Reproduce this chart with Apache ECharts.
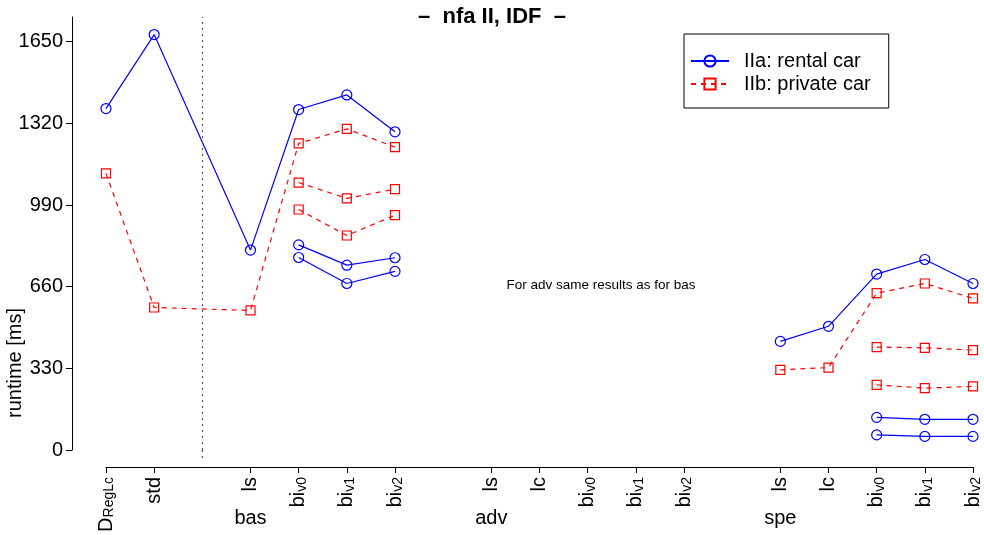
<!DOCTYPE html>
<html><head><meta charset="utf-8">
<script src="https://cdn.jsdelivr.net/npm/echarts@6/dist/echarts.min.js"></script>
<style>html,body{margin:0;padding:0;background:#fff}#c{width:984px;height:535px}</style>
</head><body><div id="c"></div>
<script>
// x slots: 0..18 (2, 7, 13 are gaps)
const tickPos = [0,1,3,4,5,6,8,9,10,11,12,14,15,16,17,18];
const tickLabels = ['D_RegLc','std','ls','bi_v0','bi_v1','bi_v2','ls','lc','bi_v0','bi_v1','bi_v2','ls','lc','bi_v0','bi_v1','bi_v2'];
const groupPos = [3,8,14];
const groupLabels = ['bas','adv','spe'];
const yTicks = [0,330,660,990,1320,1650];

const mainX = [0,1,3,4,5,6];
const biX = [4,5,6];
const speX = [14,15,16,17,18];
const speBiX = [16,17,18];

// IIa: rental car
const rentalMain = [1380,1679,808,1376,1435,1286];
const rentalBas2 = [829,747,777];
const rentalBas3 = [778,673,722];
const rentalSpe = [439,500,711,770,673];
const rentalSpe2 = [132,124,124];
const rentalSpe3 = [61,55,55];
// IIb: private car
const privateMain = [1118,576,564,1239,1298,1224];
const privateBas2 = [1081,1017,1054];
const privateBas3 = [972,867,949];
const privateSpe = [324,333,634,673,613];
const privateSpe2 = [416,413,404];
const privateSpe3 = [263,250,257];

const FONT = '"Liberation Sans", Arial, sans-serif';
const BLUE = '#0000ff', RED = '#ff0000';
const zip = (xs, ys) => xs.map((x, i) => [x, ys[i]]);

function mk(name, xs, ys, isRental, extra) {
  const c = isRental ? BLUE : RED;
  return Object.assign({
    name, type: 'line', data: zip(xs, ys),
    symbol: isRental ? 'circle' : 'rect',
    symbolSize: isRental ? 10 : 9,
    lineStyle: { color: c, width: 1.2, type: isRental ? 'solid' : [5, 5] },
    itemStyle: { color: 'rgba(255,255,255,0)', borderColor: c, borderWidth: 1.2 },
    emphasis: { disabled: true }, animation: false
  }, extra || {});
}

const RN = 'IIa: rental car', PN = 'IIb: private car';
const DOT = { type: [2, 4], color: '#555', width: 1.2 };
const series = [
  mk(RN, mainX, rentalMain, true, {
    markLine: { symbol: 'none', silent: true, label: { show: false },
      lineStyle: DOT, data: [{ xAxis: 2 }] }
  }),
  mk(RN, biX, rentalBas2, true),
  mk(RN, biX, rentalBas3, true),
  mk(RN, speX, rentalSpe, true),
  mk(RN, speBiX, rentalSpe2, true),
  mk(RN, speBiX, rentalSpe3, true),
  mk(PN, mainX, privateMain, false),
  mk(PN, biX, privateBas2, false),
  mk(PN, biX, privateBas3, false),
  mk(PN, speX, privateSpe, false),
  mk(PN, speBiX, privateSpe2, false),
  mk(PN, speBiX, privateSpe3, false)
];

const chart = echarts.init(document.getElementById('c'), null, { renderer: 'canvas' });
chart.setOption({
  animation: false,
  backgroundColor: '#fff',
  textStyle: { fontFamily: FONT, color: '#000' },
  title: { text: '\u2013  nfa II, IDF  \u2013', left: 'center', top: 1,
    textStyle: { fontFamily: FONT, fontSize: 22, fontWeight: 'bold', color: '#000' } },
  legend: {
    orient: 'vertical', left: 684, top: 34,
    data: [RN, PN],
    borderColor: '#000', borderWidth: 1, borderRadius: 0,
    padding: [17, 18, 14, 6], itemGap: 3,
    itemWidth: 38, itemHeight: 14,
    textStyle: { fontFamily: FONT, fontSize: 20, color: '#000', padding: [0, 0, 0, 10] }
  },
  grid: { left: 106, right: 11, top: 17, bottom: 85, containLabel: false },
  xAxis: [{
    type: 'value', min: 0, max: 18, offset: 17,
    axisLine: { show: true, onZero: false, lineStyle: { color: '#000', width: 1 } },
    axisTick: { show: true, length: 6, lineStyle: { color: '#000' }, customValues: tickPos },
    splitLine: { show: false },
    axisLabel: {
      customValues: tickPos, rotate: 90, margin: 10, fontSize: 20, color: '#000', fontFamily: FONT,
      lineHeight: 20,
      formatter: v => {
        const i = tickPos.indexOf(v);
        if (i < 0) return '';
        const p = tickLabels[i].split('_');
        return p.length > 1 ? p[0] + '{s|' + p[1] + '}' : p[0];
      },
      rich: { s: { fontSize: 14, lineHeight: 6, verticalAlign: 'bottom', fontFamily: FONT, color: '#000' } }
    }
  }, {
    type: 'value', min: 0, max: 18, offset: 17, position: 'bottom',
    axisLine: { show: false, onZero: false }, axisTick: { show: false }, splitLine: { show: false },
    axisLabel: {
      customValues: groupPos, margin: 41, fontSize: 20, color: '#000', fontFamily: FONT,
      formatter: v => { const i = groupPos.indexOf(v); return i < 0 ? '' : groupLabels[i]; }
    }
  }],
  yAxis: {
    type: 'value', min: 0, max: 1750, offset: 34,
    axisLine: { show: true, onZero: false, lineStyle: { color: '#000', width: 1 } },
    axisTick: { show: true, length: 6, lineStyle: { color: '#000' }, customValues: yTicks },
    splitLine: { show: false },
    axisLabel: { customValues: yTicks, margin: 9, fontSize: 20, color: '#000', fontFamily: FONT,
      formatter: v => String(v) }
  },
  graphic: [
    { id: 'ylab', type: 'text', x: 5, y: 418, rotation: Math.PI / 2,
      style: { text: 'runtime [ms]', fontSize: 20, fontFamily: FONT, fill: '#000',
        textAlign: 'left', textVerticalAlign: 'top' } },
    { id: 'note', type: 'text', x: 601, y: 285,
      style: { text: 'For adv same results as for bas', fontSize: 13.5, fontFamily: FONT, fill: '#000',
        textAlign: 'center', textVerticalAlign: 'middle' } }
  ],
  series
});
// extend the dotted separator slightly below the plotting region, as in the original
const sx = chart.convertToPixel({ xAxisIndex: 0 }, 2);
const sy = chart.convertToPixel({ yAxisIndex: 0 }, 0);
chart.setOption({ graphic: [{ id: 'sepExt', type: 'line', silent: true,
  shape: { x1: sx, y1: sy, x2: sx, y2: sy + 12 },
  style: { stroke: DOT.color, lineWidth: DOT.width, lineDash: DOT.type } }] });
</script></body></html>
